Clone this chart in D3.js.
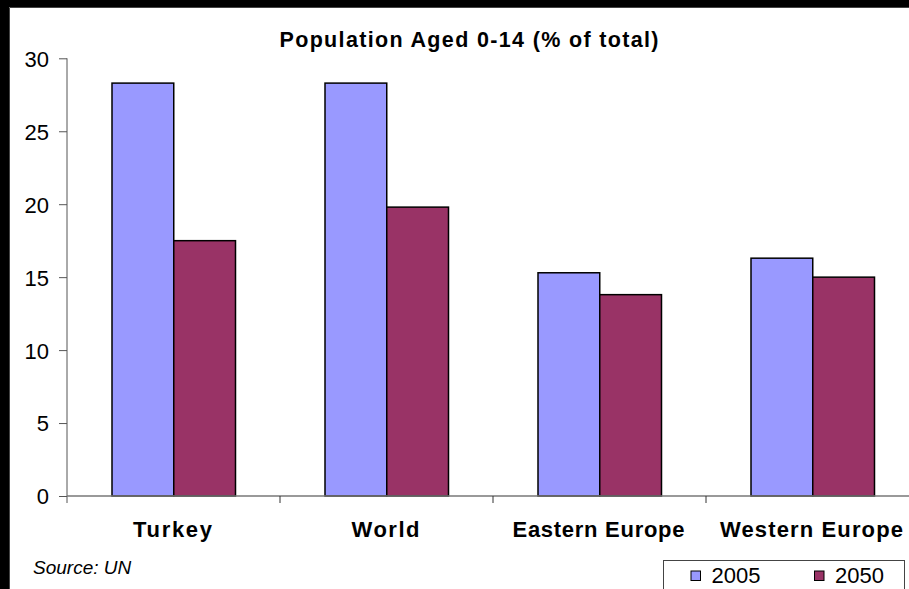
<!DOCTYPE html>
<html>
<head>
<meta charset="utf-8">
<script src="https://cdn.jsdelivr.net/npm/d3@7/dist/d3.min.js"></script>
<style>
  html, body { margin: 0; padding: 0; background: #fff; overflow: hidden; }
  svg { display: block; }
</style>
</head>
<body>
<svg id="chart" width="909" height="589"></svg>
<script>
// Share of population aged 0-14, 2005 vs 2050 projection
const categories = ["Turkey", "World", "Eastern Europe", "Western Europe"];
const seriesNames = ["2005", "2050"];
const values2005 = [28.3, 28.3, 15.3, 16.3];
const values2050 = [17.5, 19.8, 13.8, 15.0];
const yTicks = [0, 5, 10, 15, 20, 25, 30];
const colors = ["#9999FF", "#993366"];

const W = 909, H = 589;
const svg = d3.select("#chart");

// dark frame on the top and left, white chart area
svg.append("rect").attr("width", W).attr("height", H).attr("fill", "#fff");
svg.append("rect").attr("x", 0).attr("y", 0).attr("width", W).attr("height", 7).attr("fill", "#000");
svg.append("rect").attr("x", 0).attr("y", 0).attr("width", 9).attr("height", H).attr("fill", "#000");
svg.append("path").attr("d", `M9.5,${H}V7.5H${W}`).attr("fill", "none")
  .attr("stroke", "#444").attr("stroke-width", 1);

const x0 = 67, bandW = 213;
const x = d3.scaleBand().domain(categories)
  .range([x0, x0 + bandW * categories.length]).paddingInner(0).paddingOuter(0);
const xs = d3.scaleBand().domain(seriesNames)
  .range([45, bandW - 45 + 0.5]);
const y = d3.scaleLinear().domain([0, 30]).range([496, 58.3]);

const font = "Arial, 'Liberation Sans', Helvetica, sans-serif";

// title
svg.append("text").attr("x", 469).attr("y", 46.5).attr("text-anchor", "middle")
  .attr("font-family", font).attr("font-weight", "bold").attr("font-size", 21.5)
  .attr("textLength", 379).attr("lengthAdjust", "spacing")
  .text("Population Aged 0-14 (% of total)");

// bars
const data = categories.map((c, i) => ({ c, v: [values2005[i], values2050[i]] }));
const groups = svg.append("g").selectAll("g").data(data).join("g")
  .attr("transform", d => `translate(${x(d.c)},0)`);
groups.selectAll("rect").data(d => d.v.map((v, j) => ({ v, s: seriesNames[j], j })))
  .join("rect")
  .attr("x", d => xs(d.s))
  .attr("width", xs.bandwidth())
  .attr("y", d => y(d.v))
  .attr("height", d => y(0) - y(d.v))
  .attr("fill", d => colors[d.j])
  .attr("stroke", "#000").attr("stroke-width", 1.5);

// y axis
const yAxis = d3.axisLeft(y).tickValues(yTicks).tickSize(8).tickSizeOuter(0).tickPadding(10);
const gy = svg.append("g").attr("transform", `translate(${x0},0)`).call(yAxis);
gy.select(".domain").attr("stroke", "#555").attr("d", `M0,${y(30)}V${y(0) + 7}`);
gy.selectAll(".tick line").attr("stroke", "#555");
gy.selectAll(".tick text").attr("font-family", font).attr("font-size", 22).attr("fill", "#000")
  .attr("dy", "0.36em");

// x axis with ticks between categories
const gx = svg.append("g").attr("transform", `translate(0,${y(0)})`);
gx.append("line").attr("x1", x0).attr("x2", W).attr("y1", 0).attr("y2", 0)
  .attr("stroke", "#777").attr("stroke-width", 1.3);
gx.selectAll("line.sep").data(categories.slice(1)).join("line").attr("class", "sep")
  .attr("x1", d => x(d)).attr("x2", d => x(d)).attr("y1", 0).attr("y2", 7)
  .attr("stroke", "#333");
const labelWidths = { "Turkey": 79, "World": 68, "Eastern Europe": 172, "Western Europe": 183 };
gx.selectAll("text").data(categories).join("text")
  .attr("x", d => x(d) + bandW / 2 - 1)
  .attr("y", 40.5)
  .attr("text-anchor", "middle")
  .attr("font-family", font).attr("font-weight", "bold").attr("font-size", 22)
  .attr("textLength", d => labelWidths[d]).attr("lengthAdjust", "spacing")
  .text(d => d);

// source note
svg.append("text").attr("x", 33).attr("y", 574).attr("font-family", font)
  .attr("font-style", "italic").attr("font-size", 19).text("Source: UN");

// legend
const lg = svg.append("g");
lg.append("rect").attr("x", 663.5).attr("y", 560.5).attr("width", 241).attr("height", 40)
  .attr("fill", "#fff").attr("stroke", "#444").attr("stroke-width", 1);
const items = lg.selectAll("g.item").data(seriesNames).join("g").attr("class", "item")
  .attr("transform", (d, i) => `translate(${i === 0 ? 691 : 814.5},0)`);
items.append("rect").attr("x", 0).attr("y", 571).attr("width", 9.5).attr("height", 9.5)
  .attr("fill", (d, i) => colors[i]).attr("stroke", "#000").attr("stroke-width", 1);
items.append("text").attr("x", 20.5).attr("y", 582.5).attr("font-family", font)
  .attr("font-size", 22).text(d => d);
</script>
</body>
</html>
